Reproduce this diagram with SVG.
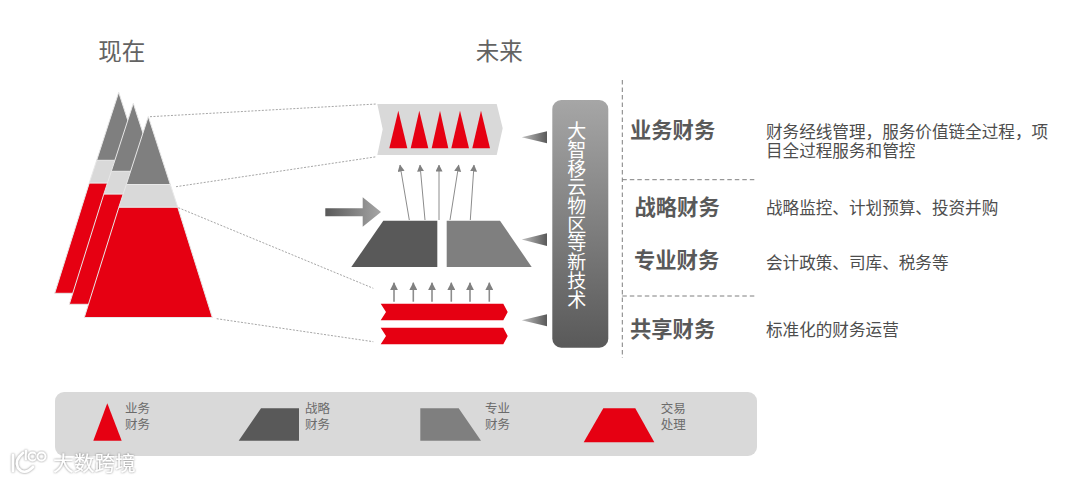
<svg xmlns="http://www.w3.org/2000/svg" width="1080" height="483" viewBox="0 0 1080 483">
<style>
text{font-family:"Noto Sans CJK SC","Liberation Sans",sans-serif}
.h{font-size:23.5px;fill:#636363;text-anchor:middle}
.t{font-size:21.3px;font-weight:700;fill:#595959}
.d{font-size:16.6px;fill:#4d4d4d}
.l{font-size:12.5px;fill:#6b6b6b}
.v{font-size:19px;fill:#fff;writing-mode:vertical-rl;letter-spacing:-0.3px}
.dot{fill:none;stroke:#a6a6a6;stroke-width:1;stroke-dasharray:2 1.5}
.dash{fill:none;stroke:#7f7f7f;stroke-width:1;stroke-dasharray:4.5 3}
.red{fill:#e60012}
.gray{fill:#7f7f7f}
.dark{fill:#595959}
.light{fill:#d9d9d9}
.edge{stroke:#e8e8e8;stroke-width:1}
.thin{fill:none;stroke:#8c8c8c;stroke-width:1;marker-end:url(#tip)}
.thick{fill:none;stroke:#8c8c8c;stroke-width:1.6;marker-end:url(#tip2)}
.logo{fill:none;stroke:#fff;stroke-width:2.6;stroke-linecap:round;filter:url(#halo)}
.ring{fill:none;stroke:#fff;stroke-width:1.8;filter:url(#halo)}
.mark{font-size:20.7px;fill:#fff;filter:url(#halo)}
</style>
<defs>
<filter id="halo" x="-30%" y="-30%" width="160%" height="160%"><feDropShadow dx="0" dy="0" stdDeviation="1" flood-color="#7a7a7a" flood-opacity="1"/></filter>
<marker id="tip" markerUnits="userSpaceOnUse" markerWidth="7" markerHeight="8" refX="6.5" refY="3.5" orient="auto"><path d="M0 0L7 3.5L0 7Z" fill="#808080"/></marker>
<marker id="tip2" markerUnits="userSpaceOnUse" markerWidth="8" markerHeight="8" refX="7.5" refY="4" orient="auto"><path d="M0 0L8 4L0 8Z" fill="#808080"/></marker>
<linearGradient id="bar" x1="0" y1="0" x2="0" y2="1"><stop offset="0" stop-color="#a6a6a6"/><stop offset="1" stop-color="#595959"/></linearGradient>
<linearGradient id="bigarrow" x1="0" y1="0" x2="1" y2="0"><stop offset="0" stop-color="#595959"/><stop offset="1" stop-color="#a6a6a6"/></linearGradient>
<linearGradient id="pointer" x1="0" y1="0" x2="1" y2="0"><stop offset="0" stop-color="#bfbfbf"/><stop offset="1" stop-color="#595959"/></linearGradient>
<g id="pyr">
<path class="red edge" d="M-29.4 90.6L-64 201H64L29.4 90.6Z"/>
<path class="light edge" d="M-22 68H22L29.4 90.6H-29.4Z"/>
<path class="gray edge" d="M0 0L22 68H-22Z"/>
</g>
</defs>
<rect width="1080" height="483" fill="#fff"/>
<text class="h" x="121.7" y="59.7">现在</text>
<text class="h" x="499.3" y="59.7">未来</text>
<g id="connectors">
<path class="dot" d="M150 116.7L376.7 104"/>
<path class="dot" d="M176 186.7L376.7 156.7"/>
<path class="dot" d="M178.3 207.7L373.3 288.3"/>
<path class="dot" d="M216.7 318.7L373.3 341.7"/>
<path class="thin" d="M409.3 220L400 165"/>
<path class="thin" d="M425 220L420 165"/>
<path class="thin" d="M439 220V165"/>
<path class="thin" d="M450 220L458.7 165"/>
<path class="thin" d="M470.3 220L474 165"/>
<path class="thick" d="M394 301.7V282.7"/>
<path class="thick" d="M413.3 301.7V282.7"/>
<path class="thick" d="M432 301.7V282.7"/>
<path class="thick" d="M451.3 301.7V282.7"/>
<path class="thick" d="M470 301.7V282.7"/>
<path class="thick" d="M489.3 301.7V282.7"/>
<path class="dash" d="M622.3 80V358"/>
<path class="dash" d="M622.3 179.7H756"/>
<path class="dash" d="M622.3 296H756"/>
</g>
<g id="pyramid-now">
<use href="#pyr" x="118.7" y="92.3"/>
<use href="#pyr" x="133.3" y="103.3"/>
<use href="#pyr" x="148.3" y="116.5"/>
</g>
<g id="business-band">
<path class="light" d="M377.3 104H496.7L502.7 128.3L496.7 155H377.3L382.7 129.3Z"/>
<path class="red" d="M398.3 110.7L407.3 148.3H389.3Z"/>
<path class="red" d="M419.3 110.7L428.3 148.3H410.7Z"/>
<path class="red" d="M440 110.7L448.3 148.3H431.7Z"/>
<path class="red" d="M460 110.7L469 148.3H451.3Z"/>
<path class="red" d="M481 110.7L490 148.3H472.3Z"/>
</g>
<g id="big-arrow"><path fill="url(#bigarrow)" d="M325.3 208.3H362.7V197.3L381 212L362.7 226.7V216.3H325.3Z"/></g>
<g id="strategy-trapezoid"><path class="dark" d="M383.3 220.7H437.3V267H351.3Z"/></g>
<g id="special-trapezoid"><path class="gray" d="M446.7 220.7H500L531.7 267H446.7Z"/></g>
<g id="shared-chevrons">
<path class="red" d="M380.7 303.7H503.3L507.7 312L503.3 320.3H380.7L386 312Z"/>
<path class="red" d="M380.7 327.7H503.3L507.7 336L503.3 344.3H380.7L386 336Z"/>
</g>
<g id="pointers">
<path fill="url(#pointer)" d="M521.7 137.3L547 131.3V143.3Z"/>
<path fill="url(#pointer)" d="M521.7 239.5L547 233.3V246Z"/>
<path fill="url(#pointer)" d="M521.7 320.3L547 314.3V326.3Z"/>
</g>
<g id="tech-bar">
<rect x="552.3" y="100" width="56" height="247.7" rx="9" fill="url(#bar)"/>
<text class="v" x="576.7" y="121.5">大智移云物区等新技术</text>
</g>
<g id="labels">
<text class="t" x="630" y="138">业务财务</text>
<text class="d"><tspan x="766" y="137.8">财务经线管理，服务价值链全过程，项</tspan><tspan x="766" y="157.3">目全过程服务和管控</tspan></text>
<text class="t" x="634.5" y="214.7">战略财务</text>
<text class="d" x="766" y="213.5">战略监控、计划预算、投资并购</text>
<text class="t" x="634" y="268">专业财务</text>
<text class="d" x="766" y="269">会计政策、司库、税务等</text>
<text class="t" x="630" y="336.6">共享财务</text>
<text class="d" x="766" y="336">标准化的财务运营</text>
</g>
<g id="legend">
<rect x="55" y="392" width="702" height="64" rx="9" fill="#d9d9d9"/>
<path class="red" d="M107.3 403.3L121.7 440.7H93.3Z"/>
<text class="l"><tspan x="125" y="413">业务</tspan><tspan x="125" y="429">财务</tspan></text>
<path class="dark" d="M261 408.3H299V440.7H238.7Z"/>
<text class="l"><tspan x="305" y="413">战略</tspan><tspan x="305" y="429">财务</tspan></text>
<path class="gray" d="M420.3 408.3H458.7L481 440.7H420.3Z"/>
<text class="l"><tspan x="485" y="413">专业</tspan><tspan x="485" y="429">财务</tspan></text>
<path class="red" d="M603.3 408.3H635.3L654.3 442.3H583.7Z"/>
<text class="l"><tspan x="660.7" y="413">交易</tspan><tspan x="660.7" y="429">处理</tspan></text>
</g>
<g id="watermark">
<path class="logo" d="M13 455V471M23 453Q14 460 18 468Q24 476 33 467M26 451V459"/>
<circle class="ring" cx="32.5" cy="456.5" r="4"/>
<circle class="ring" cx="41.5" cy="456.5" r="4"/>
<text class="mark" x="53" y="471">大数跨境</text>
</g>
</svg>
